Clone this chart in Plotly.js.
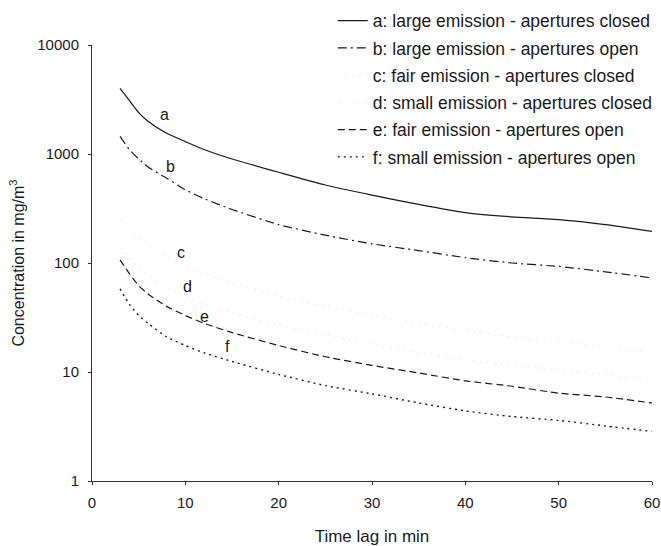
<!DOCTYPE html>
<html>
<head>
<meta charset="utf-8">
<script src="https://cdn.plot.ly/plotly-3.0.1.min.js"></script>
<style>html,body{margin:0;padding:0;background:#fff;}#chart{width:661px;height:546px;}</style>
</head>
<body>
<div id="chart"></div>
<script>
// Time lag in min
const timeLag = [3, 4, 5, 6, 8, 10, 12, 15, 20, 25, 30, 35, 40, 45, 50, 55, 60];
// Concentrations in mg/m3
const seriesA = [4000, 3100, 2400, 2000, 1550, 1300, 1100, 900, 680, 520, 420, 345, 290, 265, 250, 225, 195];
const seriesB = [1450, 1100, 900, 760, 600, 470, 390, 310, 225, 180, 150, 130, 112, 100, 93, 83, 73];
const seriesC = [260, 210, 175, 150, 115, 95, 80, 66, 50, 40, 33, 28, 24, 21, 19, 17, 15];
const seriesD = [140, 110, 90, 78, 60, 50, 42, 35, 27, 22, 18, 15, 13, 11.5, 10.5, 9.5, 8.5];
const seriesE = [107, 80, 62, 52, 40, 33, 28, 23, 17.5, 13.8, 11.5, 9.8, 8.3, 7.4, 6.4, 5.9, 5.2];
const seriesF = [58, 42, 33, 28, 21, 17.5, 15, 12.5, 9.5, 7.5, 6.3, 5.2, 4.4, 3.9, 3.6, 3.2, 2.85];
const seriesNames = [
  'a: large emission - apertures closed',
  'b: large emission - apertures open',
  'c: fair emission - apertures closed',
  'd: small emission - apertures closed',
  'e: fair emission - apertures open',
  'f: small emission - apertures open'
];
const curveLetters = ['a', 'b', 'c', 'd', 'e', 'f'];
const letterX = [7.8, 8.4, 9.5, 10.2, 12.1, 14.5];
const letterY = [2280, 760, 126, 61.5, 32, 17];
const xTicks = [0, 10, 20, 30, 40, 50, 60];
const yTicks = [1, 10, 100, 1000, 10000];
const yTickText = ['1', '10', '100', '1000', '10000'];

const allSeries = [seriesA, seriesB, seriesC, seriesD, seriesE, seriesF];
const styles = [
  {color: '#1a1a1a', dash: 'solid', width: 1.2},
  {color: '#1a1a1a', dash: '9px,4px,2px,4px', width: 1.2},
  {color: '#ececec', dash: '2px,5px', width: 1},
  {color: '#ececec', dash: '2px,5px', width: 1},
  {color: '#1a1a1a', dash: '7px,4px', width: 1.2},
  {color: '#1a1a1a', dash: '2px,4px', width: 1.4}
];

const traces = allSeries.map((s, i) => ({
  x: timeLag,
  y: s,
  type: 'scatter',
  mode: 'lines',
  name: seriesNames[i],
  legendgroup: 'g' + i,
  line: Object.assign({shape: 'spline', smoothing: 0.6}, styles[i]),
  hoverinfo: 'x+y'
}));

const annotations = curveLetters.map((t, i) => ({
  x: letterX[i],
  y: Math.log10(letterY[i]),
  xref: 'x', yref: 'y',
  text: t,
  showarrow: false,
  font: {family: 'Liberation Sans, Arial, sans-serif', size: 16, color: '#1a1a1a'}
}));

const layout = {
  width: 661,
  height: 546,
  margin: {l: 92, r: 9, t: 45, b: 65, autoexpand: false},
  paper_bgcolor: '#ffffff',
  plot_bgcolor: '#ffffff',
  font: {family: 'Liberation Sans, Arial, sans-serif', size: 15, color: '#1a1a1a'},
  showlegend: true,
  legend: {
    x: 0.43, y: 1.097, xanchor: 'left', yanchor: 'top',
    bgcolor: 'rgba(0,0,0,0)',
    font: {size: 17.5, color: '#1a1a1a'},
    tracegroupgap: 1.5,
    traceorder: 'grouped'
  },
  xaxis: {
    range: [0, 60],
    tickvals: xTicks,
    ticktext: xTicks.map(String),
    showgrid: false,
    zeroline: false,
    showline: true,
    linecolor: '#333',
    linewidth: 1,
    ticks: 'outside',
    ticklen: 3,
    tickcolor: '#333',
    ticklabelstandoff: 5,
    tickfont: {size: 15},
    title: {text: 'Time lag in min', font: {size: 17}, standoff: 22}
  },
  yaxis: {
    type: 'log',
    range: [0, 4],
    tickvals: yTicks,
    ticktext: yTickText,
    showgrid: false,
    zeroline: false,
    showline: true,
    linecolor: '#333',
    linewidth: 1,
    ticks: 'outside',
    ticklen: 3,
    tickcolor: '#333',
    ticklabelstandoff: 6,
    tickfont: {size: 15},
    title: {text: 'Concentration in mg/m<sup>3</sup>', font: {size: 16}, standoff: 8}
  },
  annotations: annotations
};

Plotly.newPlot('chart', traces, layout, {displayModeBar: false, staticPlot: true});
</script>
</body>
</html>
